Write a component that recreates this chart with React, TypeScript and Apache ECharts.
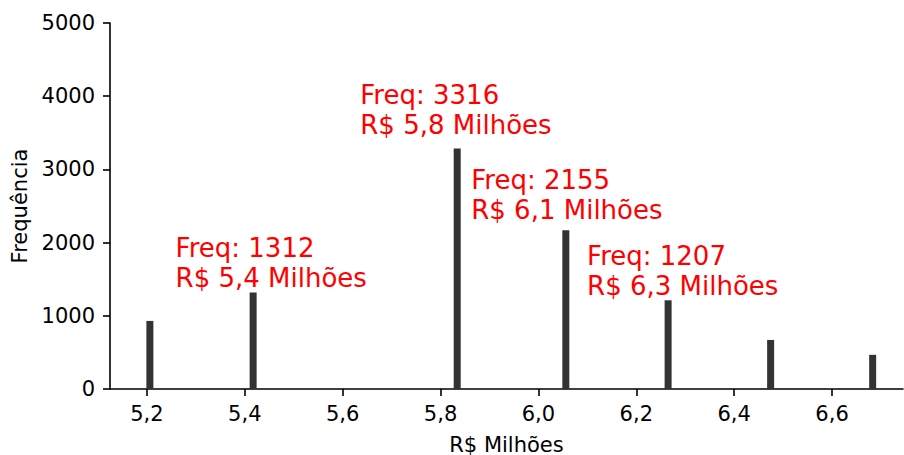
import React, { useEffect, useRef } from "react";
import * as echarts from "echarts";

const binCenters = [5.206, 5.417, 5.834, 6.056, 6.265, 6.4745, 6.683];
const frequencies = [930, 1318, 3284, 2168, 1212, 670, 467];
const xTicks = [5.2, 5.4, 5.6, 5.8, 6.0, 6.2, 6.4, 6.6];
const annotationX = [5.2586, 5.636, 5.8627, 6.0994];
const annotationAnchorY = [1309, 3396, 2237, 1204];
const annotationText = [
  "Freq: 1312\nR$ 5,4 Milhões",
  "Freq: 3316\nR$ 5,8 Milhões",
  "Freq: 2155\nR$ 6,1 Milhões",
  "Freq: 1207\nR$ 6,3 Milhões",
];

const FONT = "DejaVu Sans";

export default function App() {
  const ref = useRef<HTMLDivElement>(null);
  useEffect(() => {
    if (!ref.current) return;
    const chart = echarts.init(ref.current, null, { renderer: "svg" });
    chart.setOption({
      animation: false,
      grid: { left: 110, right: 1, top: 23, bottom: 66, containLabel: false, outerBoundsMode: "none" },
      xAxis: {
        type: "value",
        min: 5.1245,
        max: 6.745,
        name: "R$ Milhões",
        nameLocation: "middle",
        nameGap: 45,
        nameTextStyle: { fontFamily: FONT, fontSize: 21, color: "#000" },
        axisLine: { show: true, onZero: false, lineStyle: { color: "#000", width: 1.6 } },
        axisTick: { show: true, length: 7, lineStyle: { color: "#000", width: 1.6 }, customValues: xTicks },
        axisLabel: {
          customValues: xTicks,
          fontFamily: FONT,
          fontSize: 21,
          color: "#000",
          margin: 14,
          formatter: (v: number) => v.toFixed(1).replace(".", ","),
        },
        splitLine: { show: false },
      },
      yAxis: {
        type: "value",
        min: 0,
        max: 5000,
        interval: 1000,
        name: "Frequência",
        nameLocation: "middle",
        nameGap: 80,
        nameRotate: 90,
        nameTextStyle: { fontFamily: FONT, fontSize: 21, color: "#000" },
        axisLine: { show: true, lineStyle: { color: "#000", width: 1.6 } },
        axisTick: { show: true, length: 7, lineStyle: { color: "#000", width: 1.6 } },
        axisLabel: {
          fontFamily: FONT,
          fontSize: 21,
          color: "#000",
          margin: 15,
          formatter: (v: number) => String(v),
        },
        splitLine: { show: false },
      },
      series: [
        {
          type: "bar",
          data: binCenters.map((x, i) => [x, frequencies[i]]),
          barWidth: 7,
          itemStyle: { color: "#333333" },
        },
        {
          type: "scatter",
          symbolSize: 0,
          itemStyle: { opacity: 1 },
          data: annotationX.map((x, i) => [x, annotationAnchorY[i]]),
          label: {
            show: true,
            position: [0, 0],
            align: "left",
            verticalAlign: "bottom",
            fontFamily: FONT,
            fontSize: 26,
            lineHeight: 30,
            color: "#ff0000",
            opacity: 1,
            formatter: (p: any) => annotationText[p.dataIndex],
          },
        },
      ],
    });
    return () => chart.dispose();
  }, []);
  return (
    <div
      ref={ref}
      style={{ position: "absolute", left: 0, top: 0, width: 904, height: 455, background: "#fff" }}
    />
  );
}
